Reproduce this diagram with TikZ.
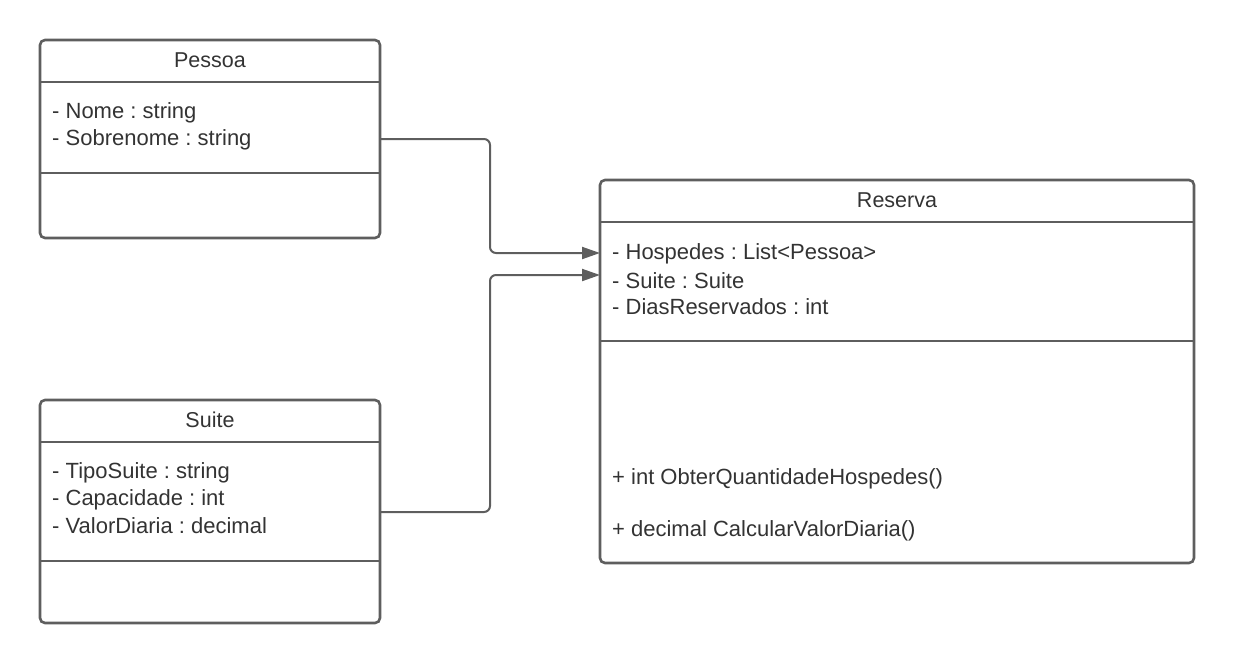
\documentclass[tikz,border=0pt]{standalone}
\usepackage{fontspec}
\setmainfont{Liberation Sans}
\usetikzlibrary{arrows.meta}
\definecolor{linec}{HTML}{5E5E5E}
\definecolor{textc}{HTML}{333333}
\frenchspacing
\begin{document}
\begin{tikzpicture}[x=1pt,y=-1pt,
  classbox/.style={draw=linec,line width=2.6pt,rounded corners=5pt},
  divider/.style={draw=linec,line width=2.6pt},
  title/.style={text=textc,font=\fontsize{21.5}{25}\selectfont\frenchspacing,inner sep=0pt,anchor=center},
  member/.style={text=textc,font=\fontsize{22}{27}\selectfont\frenchspacing,inner sep=0pt,anchor=west,align=left},
  conn/.style={draw=linec,line width=2pt,rounded corners=6pt,-{Triangle[length=18pt,width=12pt,fill=linec]}}]
\useasboundingbox (0,0) rectangle (1234,664);
% Pessoa
\draw[classbox] (40,40) rectangle (380,238);
\coordinate (pesR) at (380,139);
\draw[divider] (40,82) -- (380,82);
\draw[divider] (40,173) -- (380,173);
\node[title] (pest) at (210,60) {Pessoa};
\node[member] (pes1) at (52,113) {- Nome : string};
\node[member] (pes2) at (52,140) {- Sobrenome : string};
% Suite
\draw[classbox] (40,400) rectangle (380,623);
\coordinate (suiR) at (380,512);
\draw[divider] (40,442) -- (380,442);
\draw[divider] (40,561) -- (380,561);
\node[title] (suit) at (210,420) {Suite};
\node[member] (sui1) at (52,473) {- TipoSuite : string};
\node[member] (sui2) at (52,500) {- Capacidade : int};
\node[member] (sui3) at (52,526) {- ValorDiaria : decimal};
% Reserva
\draw[classbox] (600,180) rectangle (1194,563);
\coordinate (resA) at (600,253);
\coordinate (resB) at (600,275);
\draw[divider] (600,222) -- (1194,222);
\draw[divider] (600,341) -- (1194,341);
\node[title] (rest) at (897,200) {Reserva};
\node[member] (res1) at (612,254) {- Hospedes : List<Pessoa>};
\node[member] (res2) at (612,281) {- Suite : Suite};
\node[member] (res3) at (612,307) {- DiasReservados : int};
\node[member] (res4) at (612,479) {+ int ObterQuantidadeHospedes()};
\node[member] (res5) at (612,531) {+ decimal CalcularValorDiaria()};
% connectors
\draw[conn] (pesR) -- (490,139) -- (490,253) -- (resA);
\draw[conn] (suiR) -- (490,512) -- (490,275) -- (resB);
\end{tikzpicture}
\end{document}
